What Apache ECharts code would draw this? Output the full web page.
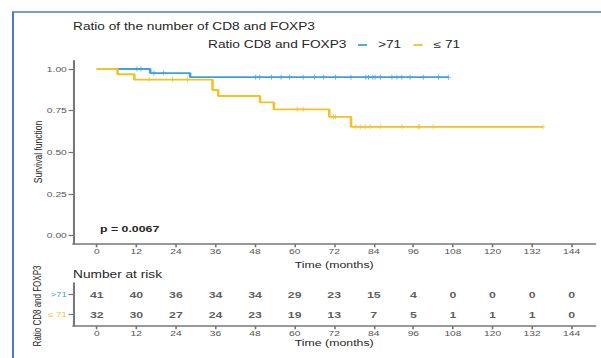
<!DOCTYPE html>
<html><head><meta charset="utf-8">
<script src="https://cdn.jsdelivr.net/npm/echarts@6/dist/echarts.min.js"></script>
<style>html,body{margin:0;padding:0;background:#fff;overflow:hidden;width:601px;height:358px}#c{height:358px;transform-origin:0 0}</style>
</head><body><div id="c"></div>
<script>
const timeTicks = [0,12,24,36,48,60,72,84,96,108,120,132,144];
const survTicks = [0,0.25,0.5,0.75,1];
const groupNames = ['>71','≤ 71'];
const blueTimes = [0,16.2,28.3,106.6];
const blueSurv = [1,0.9756,0.9512,0.9512];
const yellowTimes = [0,6.3,11.4,35.1,36.8,49.5,53.7,70.5,77.1,135.3];
const yellowSurv = [1,0.969,0.9365,0.874,0.838,0.800,0.758,0.713,0.653,0.653];
const blueCensorTimes = [12.2,13.4,17.3,20.3,48.2,49.4,53,55.9,58.5,62.6,66,68.8,72.4,77.1,81.6,82.4,83.7,84.4,86,89.5,91,92.5,95,99,103.6,106.6];
const blueCensorSurv = [1,1,0.9756,0.9756,0.9512,0.9512,0.9512,0.9512,0.9512,0.9512,0.9512,0.9512,0.9512,0.9512,0.9512,0.9512,0.9512,0.9512,0.9512,0.9512,0.9512,0.9512,0.9512,0.9512,0.9512,0.9512];
const yellowCensorTimes = [15.9,23,27.5,60.8,62.6,71.8,72.4,78.4,79.9,81.4,82.9,86,92.5,97.5,97.8,102,135.3];
const yellowCensorSurv = [0.9365,0.9365,0.9365,0.758,0.758,0.713,0.713,0.653,0.653,0.653,0.653,0.653,0.653,0.653,0.653,0.653,0.653];
const riskHigh = [41,40,36,34,34,29,23,15,4,0,0,0,0];
const riskLow = [32,30,27,24,23,19,13,7,5,1,1,1,0];

// the reference picture is stretched horizontally; reproduce with a CSS scaleX
const SX = 1.37;
const W = 601;
const el = document.getElementById('c');
el.style.width = (W / SX) + 'px';
el.style.transform = 'scaleX(' + SX + ')';
const px = v => v / SX; // reference x pixels -> chart x pixels

const BLUE = '#3fa0e0';
const YELLOW = '#f0c226';
const AX = '#777';
const TXT = '#262626';
const FONT = 'Liberation Sans, Arial, sans-serif';
const zip = (a, b) => a.map((v, i) => [v, b[i]]);
const plus = 'path://M4,0H6V4H10V6H6V10H4V6H0V4H4Z';

const chart = echarts.init(el, null, {renderer: 'svg'});
const axisLine = {show: true, onZero: false, lineStyle: {color: AX, width: 1.5}};
const tick = vals => ({show: true, length: 3.3, customValues: vals, lineStyle: {color: AX, width: 1.2}});
const lab = (vals, extra) => Object.assign({color: '#555', fontSize: 7.5, fontFamily: FONT, margin: 4.5, customValues: vals}, extra || {});
const titleStyle = (size, weight) => ({fontSize: size, fontWeight: weight || 'normal', color: TXT, fontFamily: FONT});
const vText = (text, x, y, size) => ({type: 'text', x: px(x), y: y, rotation: Math.PI / 2, silent: true,
  style: {text: text, fill: TXT, font: size + 'px ' + FONT, align: 'center', verticalAlign: 'middle'}});

chart.setOption({
  animation: false,
  textStyle: {fontFamily: FONT},
  title: [
    {text: 'Ratio of the number of CD8 and FOXP3', left: px(73), top: 22, padding: 0, textStyle: titleStyle(10)},
    {text: 'Ratio CD8 and FOXP3', left: px(208), top: 40, padding: 0, textStyle: titleStyle(10)},
    {text: 'p = 0.0067', left: px(100), top: 224.5, padding: 0, textStyle: titleStyle(9, 'bold')},
    {text: 'Number at risk', left: px(73), top: 270, padding: 0, textStyle: titleStyle(10)}
  ],
  legend: {
    data: groupNames, left: px(358), top: 40, padding: 0, itemWidth: 6.6, itemHeight: 1.8, itemGap: 9,
    icon: 'rect', selectedMode: false,
    textStyle: {fontSize: 10, color: TXT, fontFamily: FONT, padding: [0, 0, 0, 3]}
  },
  graphic: [
    {type: 'rect', shape: {x: px(13), y: 12, width: 600, height: 500}, style: {fill: 'none', stroke: '#5078c4', lineWidth: 1.5}, silent: true},
    vText('Survival function', 38, 152, 8.5),
    vText('Ratio CD8 and FOXP3', 37, 306, 8)
  ],
  grid: [
    {left: px(73), right: px(W - 595), top: 60.7, height: 183.3},
    {left: px(73), right: px(W - 595), top: 283, height: 43}
  ],
  xAxis: [
    {type: 'value', gridIndex: 0, min: -7.2, max: 151.2, splitLine: {show: false},
      name: 'Time (months)', nameLocation: 'middle', nameGap: 14,
      nameTextStyle: {fontSize: 9, color: TXT, fontFamily: FONT},
      axisLine: axisLine, axisTick: tick(timeTicks), axisLabel: lab(timeTicks, {margin: 3.5})},
    {type: 'value', gridIndex: 1, min: -7.2, max: 151.2, splitLine: {show: false},
      name: 'Time (months)', nameLocation: 'middle', nameGap: 12.5,
      nameTextStyle: {fontSize: 9, color: TXT, fontFamily: FONT},
      axisLine: axisLine, axisTick: tick(timeTicks), axisLabel: lab(timeTicks, {margin: 3.5})}
  ],
  yAxis: [
    {type: 'value', gridIndex: 0, min: -0.05, max: 1.05, splitLine: {show: false},
      axisLine: axisLine, axisTick: tick(survTicks), axisLabel: lab(survTicks, {formatter: v => v.toFixed(2)})},
    {type: 'value', gridIndex: 1, min: 0.4, max: 2.6, splitLine: {show: false},
      axisLine: axisLine, axisTick: tick([1, 2]),
      axisLabel: lab([1, 2], {
        formatter: v => v === 2 ? '{b|' + groupNames[0] + '}' : '{y|' + groupNames[1] + '}',
        rich: {b: {color: BLUE, fontSize: 7, fontFamily: FONT}, y: {color: YELLOW, fontSize: 7, fontFamily: FONT}}})}
  ],
  series: [
    {name: groupNames[0], type: 'line', step: 'end', xAxisIndex: 0, yAxisIndex: 0, symbol: 'none',
      data: zip(blueTimes, blueSurv), lineStyle: {color: BLUE, width: 1.9}, itemStyle: {color: BLUE}, z: 2},
    {name: groupNames[1], type: 'line', step: 'end', xAxisIndex: 0, yAxisIndex: 0, symbol: 'none',
      data: zip(yellowTimes, yellowSurv), lineStyle: {color: YELLOW, width: 1.9}, itemStyle: {color: YELLOW}, z: 3},
    {type: 'scatter', xAxisIndex: 0, yAxisIndex: 0, symbol: plus, symbolSize: [3.5, 5],
      data: zip(blueCensorTimes, blueCensorSurv), itemStyle: {color: BLUE}, z: 2},
    {type: 'scatter', xAxisIndex: 0, yAxisIndex: 0, symbol: plus, symbolSize: [3.5, 5],
      data: zip(yellowCensorTimes, yellowCensorSurv), itemStyle: {color: YELLOW}, z: 3},
    {type: 'scatter', xAxisIndex: 1, yAxisIndex: 1, symbolSize: 0,
      data: timeTicks.map((t, i) => [t, 2, riskHigh[i]]),
      label: {show: true, position: 'inside', formatter: p => p.value[2], fontSize: 9, fontWeight: 'bold', color: '#333', fontFamily: FONT}},
    {type: 'scatter', xAxisIndex: 1, yAxisIndex: 1, symbolSize: 0,
      data: timeTicks.map((t, i) => [t, 1, riskLow[i]]),
      label: {show: true, position: 'inside', formatter: p => p.value[2], fontSize: 9, fontWeight: 'bold', color: '#333', fontFamily: FONT}}
  ]
});
</script></body></html>
